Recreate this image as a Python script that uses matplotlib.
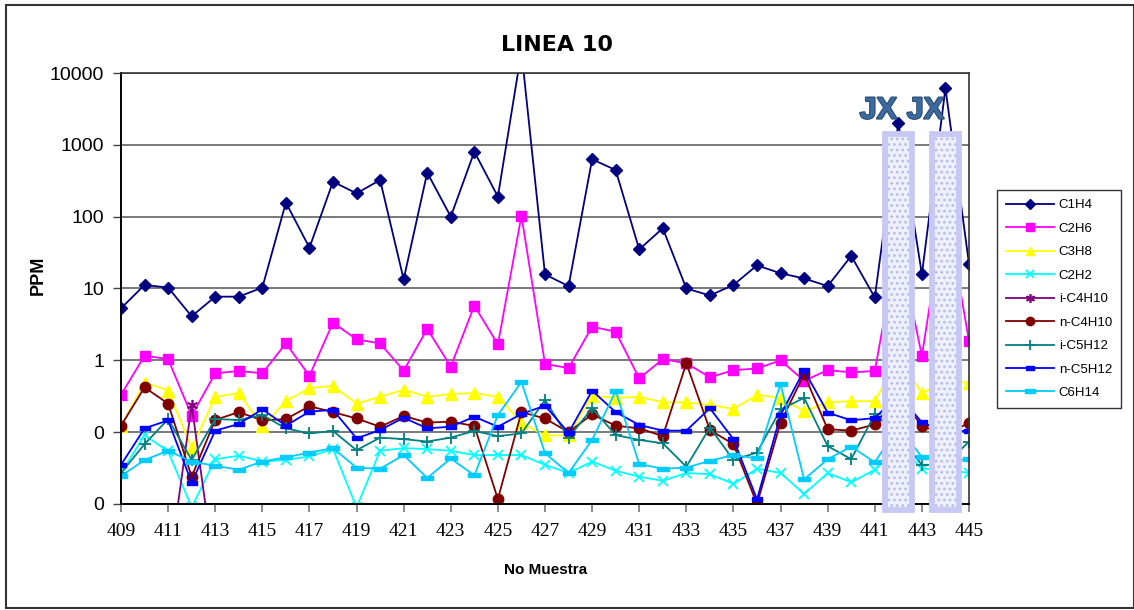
import numpy as np
import matplotlib
matplotlib.use("Agg")
import matplotlib.pyplot as plt
from matplotlib.patches import Rectangle
from matplotlib.path import Path
import matplotlib.patheffects as pe

# --- data -------------------------------------------------------------
muestras = list(range(409, 446))

c1h4 = [5.3, 11.2, 10.3, 4.1, 7.7, 7.7, 10.3, 157, 37, 307, 211, 324,
        13.4, 410, 100, 803, 190, 20000, 15.7, 10.8, 629, 446, 35, 69,
        10, 8.0, 11.2, 21, 16.3, 13.8, 10.8, 28.4, 7.5, 2000, 15.7, 6150, 22]
c2h6 = [0.33, 1.16, 1.04, 0.17, 0.66, 0.71, 0.66, 1.72, 0.61, 3.35, 1.96, 1.72,
        0.72, 2.73, 0.82, 5.77, 1.67, 103, 0.89, 0.78, 2.94, 2.5, 0.56, 1.04,
        0.91, 0.58, 0.73, 0.77, 1.0, 0.52, 0.73, 0.68, 0.71, 45, 1.15, 150, 1.86]
c3h8 = [0.12, 0.49, 0.38, 0.06, 0.31, 0.35, 0.12, 0.27, 0.41, 0.44, 0.25, 0.31,
        0.39, 0.31, 0.34, 0.35, 0.31, 0.135, 0.09, 0.09, 0.32, 0.30, 0.31, 0.26,
        0.26, 0.24, 0.21, 0.33, 0.30, 0.195, 0.26, 0.27, 0.27, 1.1, 0.35, 0.5, 0.49]
c2h2 = [0.027, 0.091, 0.054, 0.009, 0.042, 0.047, 0.039, 0.041, 0.046, 0.058, 0.009, 0.055,
        0.06, 0.058, 0.055, 0.048, 0.048, 0.048, 0.035, 0.027, 0.039, 0.029, 0.024, 0.021,
        0.027, 0.026, 0.019, 0.031, 0.027, 0.0138, 0.027, 0.020, 0.030, 0.07, 0.031, 0.03, 0.027]
i_c4h10 = [0.001, 0.001, 0.001, 0.24, 0.001, 0.001, 0.001, 0.001, 0.001, 0.001, 0.001, 0.001,
           0.001, 0.001, 0.001, 0.001, 0.001, 0.001, 0.001, 0.001, 0.001, 0.001, 0.001, 0.001,
           0.001, 0.001, 0.001, 0.001, 0.001, 0.001, 0.001, 0.001, 0.001, 0.001, 0.001, 0.001, 0.001]
n_c4h10 = [0.123, 0.42, 0.25, 0.024, 0.148, 0.19, 0.146, 0.152, 0.23, 0.19, 0.155, 0.119,
           0.168, 0.136, 0.14, 0.122, 0.0117, 0.19, 0.155, 0.10, 0.177, 0.123, 0.113, 0.088,
           0.91, 0.107, 0.068, 0.01, 0.136, 0.64, 0.11, 0.105, 0.128, 0.32, 0.123, 0.09, 0.136]
i_c5h12 = [0.027, 0.068, 0.152, 0.041, 0.152, 0.148, 0.173, 0.113, 0.096, 0.104, 0.056, 0.084,
           0.080, 0.074, 0.084, 0.104, 0.088, 0.096, 0.28, 0.084, 0.215, 0.091, 0.078, 0.07,
           0.033, 0.116, 0.041, 0.052, 0.207, 0.30, 0.064, 0.042, 0.178, 0.09, 0.035, 0.035, 0.074]
n_c5h12 = [0.035, 0.113, 0.146, 0.0198, 0.105, 0.13, 0.208, 0.123, 0.193, 0.204, 0.082, 0.107,
           0.159, 0.113, 0.119, 0.164, 0.119, 0.179, 0.234, 0.098, 0.378, 0.19, 0.126, 0.105,
           0.105, 0.215, 0.08, 0.0116, 0.173, 0.73, 0.187, 0.146, 0.157, 0.33, 0.137, 0.1, 0.105]
c6h14 = [0.0245, 0.041, 0.055, 0.039, 0.034, 0.030, 0.039, 0.0447, 0.052, 0.06, 0.032, 0.031,
         0.048, 0.023, 0.043, 0.025, 0.173, 0.50, 0.051, 0.027, 0.078, 0.374, 0.036, 0.031,
         0.032, 0.040, 0.048, 0.043, 0.47, 0.022, 0.042, 0.063, 0.038, 0.12, 0.045, 0.04, 0.042]

y_ticks = [0.01, 0.1, 1, 10, 100, 1000, 10000]
y_tick_labels = ["0", "0", "1", "10", "100", "1000", "10000"]
x_ticks = list(range(409, 446, 2))

marcadas = [442, 444]  # samples highlighted with a "JX" flag

# --- marker shapes ----------------------------------------------------
dash_small = Path([(-1, -0.45), (1, -0.45), (1, 0.45), (-1, 0.45), (-1, -0.45)],
                  [Path.MOVETO, Path.LINETO, Path.LINETO, Path.LINETO, Path.CLOSEPOLY])
dash_wide = Path([(-1, -0.35), (1, -0.35), (1, 0.35), (-1, 0.35), (-1, -0.35)],
                 [Path.MOVETO, Path.LINETO, Path.LINETO, Path.LINETO, Path.CLOSEPOLY])

series = [
    ("C1H4", c1h4, dict(color="#000080", marker="D", ms=6.5)),
    ("C2H6", c2h6, dict(color="#ff00ff", marker="s", ms=7.5)),
    ("C3H8", c3h8, dict(color="#ffff00", marker="^", ms=8)),
    ("C2H2", c2h2, dict(color="#00ffff", marker="x", ms=6.5, mew=1.3)),
    ("i-C4H10", i_c4h10, dict(color="#800080", marker=(6, 2, 0), ms=8, mew=1.2)),
    ("n-C4H10", n_c4h10, dict(color="#800000", marker="o", ms=7.5)),
    ("i-C5H12", i_c5h12, dict(color="#008080", marker="+", ms=9, mew=1.3)),
    ("n-C5H12", n_c5h12, dict(color="#0000ff", marker=dash_small, ms=7)),
    ("C6H14", c6h14, dict(color="#00ccff", marker=dash_wide, ms=9)),
]

plt.rcParams["font.family"] = ["Liberation Sans", "DejaVu Sans"]
plt.rcParams["hatch.linewidth"] = 1.2

fig = plt.figure(figsize=(11.34, 6.10), dpi=100)
ax = fig.add_axes([0.1067, 0.1738, 0.7478, 0.7065])

for name, vals, st in series:
    ax.plot(muestras, vals, label=name, lw=1.3, color=st["color"],
            marker=st["marker"], markersize=st["ms"], markeredgewidth=st.get("mew", 1.0),
            markerfacecolor=st["color"], markeredgecolor=st["color"])

ax.set_yscale("log")
ax.set_ylim(0.01, 10000)
ax.set_xlim(409, 445)
ax.set_yticks(y_ticks)
ax.set_yticklabels(y_tick_labels, fontsize=14)
ax.minorticks_off()
ax.set_xticks(x_ticks)
ax.set_xticklabels([str(t) for t in x_ticks], fontsize=14, family="Liberation Serif")
ax.tick_params(axis="y", direction="out", length=6, width=1, pad=6, color="#444444")
ax.tick_params(axis="x", direction="out", length=6, width=1.2, pad=8, color="#777777")

ax.grid(axis="y", color="#555555", lw=1.1)
ax.set_axisbelow(True)
for side in ("left", "bottom"):
    ax.spines[side].set_color("black")
    ax.spines[side].set_linewidth(1.4)
for side in ("top", "right"):
    ax.spines[side].set_color("#333333")
    ax.spines[side].set_linewidth(1.2)

# highlighted samples: dotted columns with a "JX" flag above
for m in marcadas:
    ax.add_patch(Rectangle((m - 0.57, 0.0083), 1.14, 1413 - 0.0083,
                           facecolor="#eef0fb", edgecolor="#b8bcec", hatch="...",
                           lw=0, zorder=5, clip_on=False))
    ax.add_patch(Rectangle((m - 0.57, 0.0083), 1.14, 1413 - 0.0083,
                           facecolor="none", edgecolor="#c8c8f4",
                           lw=4.2, zorder=6, clip_on=False))
    ax.text(m - 0.85, 3000, "JX", ha="center", va="center", fontsize=22,
            fontweight="bold", color="#3c6a9c", zorder=7,
            path_effects=[pe.withStroke(linewidth=1.5, foreground="#284a74")])

fig.text(0.491, 0.926, "LINEA 10", ha="center", va="center", fontsize=16,
         fontweight="heavy", family=["DejaVu Sans"])
fig.text(0.034, 0.549, "PPM", ha="center", va="center", rotation=90,
         fontsize=13, fontweight="bold")
fig.text(0.481, 0.065, "No Muestra", ha="center", va="center",
         fontsize=11, fontweight="bold")

leg = ax.legend(loc="upper left", bbox_to_anchor=(0.879, 0.6885),
                bbox_transform=fig.transFigure, frameon=True, fancybox=False,
                fontsize=9.5, handlelength=3.6, labelspacing=0.85, markerscale=0.8,
                borderpad=0.7, handletextpad=0.4, borderaxespad=0)
leg.get_frame().set_edgecolor("black")
leg.get_frame().set_linewidth(1.0)

# chart area border
fig.add_artist(Rectangle((0.0053, 0.0035), 0.9947, 0.9885, transform=fig.transFigure,
                         facecolor="none", edgecolor="#333333", lw=1.5))

fig.savefig("out.png", dpi=100)
